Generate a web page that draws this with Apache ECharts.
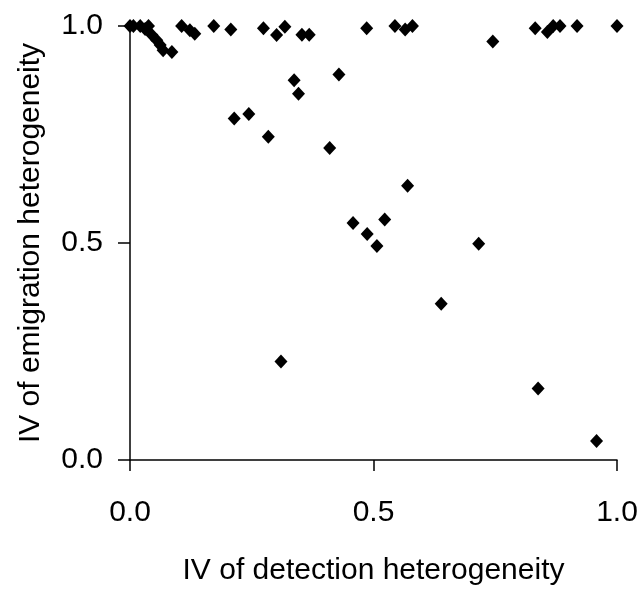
<!DOCTYPE html>
<html>
<head>
<meta charset="utf-8">
<script src="https://cdn.jsdelivr.net/npm/echarts@6/dist/echarts.min.js"></script>
<style>html,body{margin:0;padding:0;background:#fff}#c{width:643px;height:591px}</style>
</head>
<body>
<div id="c"></div>
<script>
var xTicks = [0.0, 0.5, 1.0];
var yTicks = [0.0, 0.5, 1.0];
var detection = [0.000, 0.007, 0.021, 0.031, 0.038, 0.045, 0.055, 0.062, 0.068, 0.086,
  0.106, 0.123, 0.133, 0.172, 0.207, 0.274, 0.301, 0.318, 0.353, 0.368,
  0.486, 0.544, 0.565, 0.580, 0.745, 0.832, 0.857, 0.869, 0.883, 0.918, 1.000,
  0.337, 0.346, 0.429, 0.214, 0.244, 0.284, 0.410, 0.570, 0.458, 0.523,
  0.487, 0.507, 0.716, 0.639, 0.838, 0.958, 0.310];
var emigration = [1.000, 1.000, 1.000, 0.993, 1.000, 0.979, 0.967, 0.956, 0.944, 0.940,
  1.000, 0.990, 0.982, 1.000, 0.992, 0.995, 0.979, 0.998, 0.980, 0.980,
  0.995, 1.000, 0.992, 1.000, 0.964, 0.995, 0.986, 1.000, 1.000, 1.000, 1.000,
  0.875, 0.844, 0.888, 0.787, 0.797, 0.745, 0.719, 0.632, 0.546, 0.554,
  0.521, 0.493, 0.498, 0.360, 0.165, 0.044, 0.227];

var points = detection.map(function (x, i) { return [x, emigration[i]]; });
var font = 'Liberation Sans, Arial, sans-serif';
var chart = echarts.init(document.getElementById('c'));
chart.setOption({
  animation: false,
  backgroundColor: '#fff',
  grid: { left: 130, right: 26, top: 26, bottom: 129, containLabel: false },
  xAxis: {
    type: 'value', min: 0, max: 1, interval: 0.5,
    name: 'IV of detection heterogeneity', nameLocation: 'middle', nameGap: 96,
    nameTextStyle: { fontFamily: font, fontSize: 30, color: '#000' },
    axisLine: { show: true, onZero: false, lineStyle: { color: '#000', width: 1.5 } },
    axisTick: { show: true, inside: false, length: 11, lineStyle: { color: '#000', width: 1.5 } },
    axisLabel: { fontFamily: font, fontSize: 30, color: '#000', margin: 38,
      formatter: function (v) { return v.toFixed(1); } },
    splitLine: { show: false }
  },
  yAxis: {
    type: 'value', min: 0, max: 1, interval: 0.5,
    name: 'IV of emigration heterogeneity', nameLocation: 'middle', nameGap: 84,
    nameTextStyle: { fontFamily: font, fontSize: 30, color: '#000' },
    axisLine: { show: true, onZero: false, lineStyle: { color: '#000', width: 1.5 } },
    axisTick: { show: true, inside: false, length: 12, lineStyle: { color: '#000', width: 1.5 } },
    axisLabel: { fontFamily: font, fontSize: 30, color: '#000', margin: 27,
      formatter: function (v) { return v.toFixed(1); } },
    splitLine: { show: false }
  },
  series: [{
    type: 'scatter',
    data: points,
    symbol: 'diamond',
    symbolSize: [13, 14],
    itemStyle: { color: '#000', opacity: 1 },
    clip: false
  }]
});
</script>
</body>
</html>
